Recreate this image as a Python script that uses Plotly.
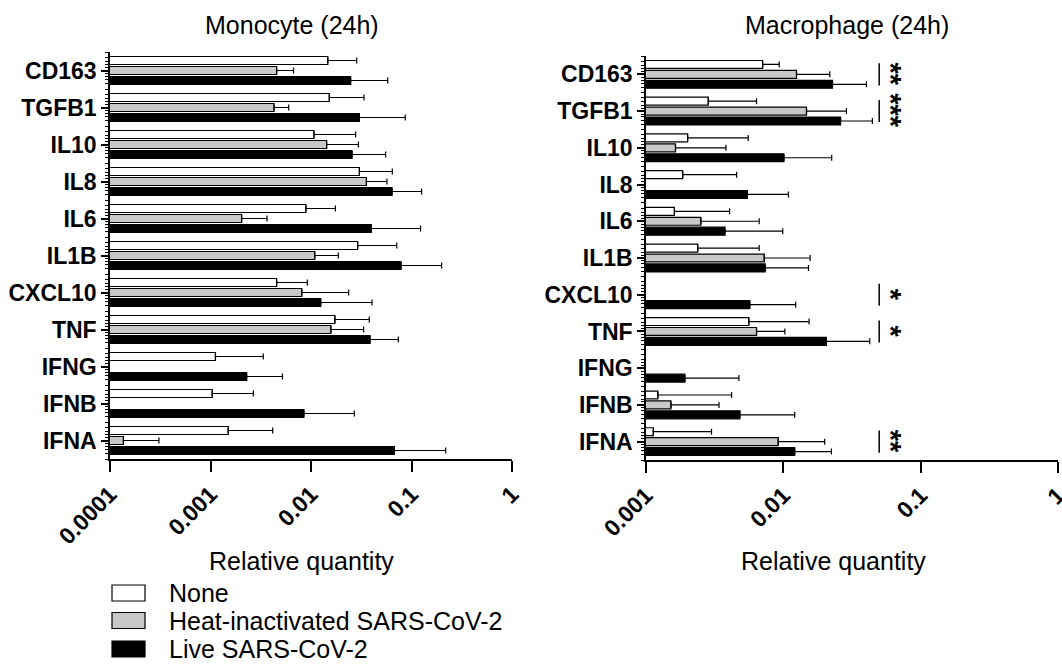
import plotly.graph_objects as go

W, H = 1062, 666

# ---------------- data ----------------
genes = ["CD163", "TGFB1", "IL10", "IL8", "IL6", "IL1B", "CXCL10", "TNF", "IFNG", "IFNB", "IFNA"]
series_names = ["None", "Heat-inactivated SARS-CoV-2", "Live SARS-CoV-2"]

# Monocyte (24h): mean relative quantity and upper error (SD)
mono_none = [0.0147, 0.0152, 0.0107, 0.0303, 0.0089, 0.0291, 0.00455, 0.0173, 0.00112, 0.00104, 0.0015]
mono_none_sd = [0.0138, 0.0185, 0.0171, 0.0341, 0.0086, 0.0422, 0.00465, 0.0207, 0.00223, 0.00163, 0.00266]
mono_heat = [0.00455, 0.00429, 0.0143, 0.0356, 0.00204, 0.0109, 0.0081, 0.0158, None, None, 0.000136]
mono_heat_sd = [0.00215, 0.00171, 0.0153, 0.0214, 0.00161, 0.0078, 0.0156, 0.0176, None, None, 0.000171]
mono_live = [0.0248, 0.0303, 0.0256, 0.064, 0.0398, 0.0787, 0.0125, 0.0387, 0.00229, 0.0085, 0.0675]
mono_live_sd = [0.0332, 0.0564, 0.0297, 0.062, 0.0832, 0.1208, 0.028, 0.0353, 0.00291, 0.0185, 0.1515]

# Macrophage (24h)
mac_none = [0.00707, 0.00284, 0.00201, 0.00185, 0.00161, 0.00238, None, 0.00561, None, 0.00122, 0.00113]
mac_none_sd = [0.00226, 0.00354, 0.00354, 0.00272, 0.00245, 0.00429, None, 0.00979, None, 0.00298, 0.00187]
mac_heat = [0.01247, 0.01475, 0.00164, None, 0.00251, 0.00726, None, 0.00638, None, 0.00152, 0.00917]
mac_heat_sd = [0.00933, 0.01405, 0.00218, None, 0.00416, 0.00841, None, 0.00388, None, 0.00188, 0.01083]
mac_live = [0.0228, 0.0261, 0.0101, 0.00546, 0.00376, 0.00738, 0.0057, 0.0206, 0.00192, 0.00483, 0.0121]
mac_live_sd = [0.0175, 0.0184, 0.0124, 0.00544, 0.00614, 0.00787, 0.0066, 0.022, 0.00283, 0.00727, 0.0103]

mono_ticks = [1e-4, 1e-3, 1e-2, 1e-1, 1]
mono_ticktext = ["0.0001", "0.001", "0.01", "0.1", "1"]
mac_ticks = [1e-3, 1e-2, 1e-1, 1]
mac_ticktext = ["0.001", "0.01", "0.1", "1"]

# significance marks (Macrophage panel)
sig_genes = ["CD163", "TGFB1", "CXCL10", "TNF", "IFNA"]
sig_labels = ["**", "***", "*", "*", "**"]

titles = ["Monocyte (24h)", "Macrophage (24h)"]
x_title = "Relative quantity"

# ---------------- style ----------------
FONT = "Liberation Sans, Arial, Helvetica, sans-serif"
fills = ["white", "#c8c8c8", "black"]


def px_x(p):
    return p / W


def px_y(p):
    return 1 - p / H


fig = go.Figure()

panels = [
    dict(xa="x", ya="y", ya_minor="y3",
         vals=[mono_none, mono_heat, mono_live], sds=[mono_none_sd, mono_heat_sd, mono_live_sd]),
    dict(xa="x2", ya="y2", ya_minor="y4",
         vals=[mac_none, mac_heat, mac_live], sds=[mac_none_sd, mac_heat_sd, mac_live_sd]),
]

for p in panels:
    for k in range(3):
        fig.add_trace(go.Bar(
            orientation="h", y=genes, x=p["vals"][k], name=series_names[k],
            xaxis=p["xa"], yaxis=p["ya"], showlegend=False,
            marker=dict(color=fills[k], line=dict(color="black", width=1.2)),
            error_x=dict(type="data", symmetric=False, array=p["sds"][k],
                         arrayminus=[0] * len(genes), color="black", thickness=1.2, width=3),
        ))
    # empty helper trace so the minor-tick overlay axis is drawn
    fig.add_trace(go.Scatter(x=[None], y=[None], xaxis=p["xa"], yaxis=p["ya_minor"],
                             showlegend=False, hoverinfo="skip", mode="markers"))

n = len(genes)
minor_offsets = [-0.5, -0.36, -0.25, -0.16, -0.08, 0.08, 0.16, 0.25, 0.36]
minor_vals = [i + o for i in range(n) for o in minor_offsets] + [n - 0.5]

tickfont_b = dict(family=FONT, size=23, color="black", weight="bold")

common_x = dict(type="log", showgrid=False, zeroline=False, showline=True, linecolor="black",
                linewidth=1.5, ticks="outside", ticklen=11, tickwidth=1.5, tickcolor="black",
                tickangle=-45, tickfont=tickfont_b, automargin=False, ticklabeloverflow="allow")
common_y = dict(type="category", categoryorder="array", categoryarray=genes,
                range=[n - 0.5, -0.5], showgrid=False, zeroline=False, showline=True,
                linecolor="black", linewidth=1.5, ticks="outside", ticklen=7, tickwidth=1.5,
                tickcolor="black", tickfont=tickfont_b, automargin=False)
minor_y = dict(type="linear", range=[n - 0.5, -0.5], tickmode="array", tickvals=minor_vals,
               ticks="outside", ticklen=4, tickwidth=1, tickcolor="black", showticklabels=False,
               showline=False, showgrid=False, zeroline=False, side="left", automargin=False)

fig.update_layout(
    width=W, height=H, margin=dict(l=0, r=0, t=0, b=0),
    paper_bgcolor="white", plot_bgcolor="white",
    barmode="group", bargap=0.19, bargroupgap=0.2,
    font=dict(family=FONT, color="black"),
    xaxis=dict(common_x, domain=[px_x(110), px_x(512)], range=[-4, 0], anchor="y",
               tickmode="array", tickvals=mono_ticks, ticktext=mono_ticktext),
    xaxis2=dict(common_x, domain=[px_x(646), px_x(1058)], range=[-3, 0], anchor="y2",
                tickmode="array", tickvals=mac_ticks, ticktext=mac_ticktext),
    yaxis=dict(common_y, domain=[px_y(459), px_y(52)], anchor="x"),
    yaxis2=dict(common_y, domain=[px_y(460), px_y(56)], anchor="x2"),
    yaxis3=dict(minor_y, overlaying="y", anchor="x"),
    yaxis4=dict(minor_y, overlaying="y2", anchor="x2"),
)

annotations = []
shapes = []

# panel titles
for t, cx in zip(titles, [292, 847]):
    annotations.append(dict(text=t, x=px_x(cx), y=px_y(25), xref="paper", yref="paper",
                            xanchor="center", yanchor="middle", showarrow=False,
                            font=dict(family=FONT, size=25, color="black")))
# x-axis titles
for cx in [301, 833]:
    annotations.append(dict(text=x_title, x=px_x(cx), y=px_y(561), xref="paper", yref="paper",
                            xanchor="center", yanchor="middle", showarrow=False,
                            font=dict(family=FONT, size=25, color="black")))

# significance bars and (rotated, stacked) stars
for g, lab in zip(sig_genes, sig_labels):
    c = genes.index(g)
    shapes.append(dict(type="line", xref="x2 domain", yref="y2", x0=0.566, x1=0.566,
                       y0=c - 0.3, y1=c + 0.3, line=dict(color="black", width=1.5)))
    annotations.append(dict(text=lab, xref="x2 domain", yref="y2", x=0.597, y=c,
                            xanchor="center", yanchor="middle", showarrow=False,
                            textangle=90, xshift=-1,
                            font=dict(family=FONT, size=29, color="black", weight="bold")))

# legend (drawn as boxes + text)
legend_rows = [593, 620.5, 649]
for k, (name, ry) in enumerate(zip(series_names, legend_rows)):
    shapes.append(dict(type="rect", xref="paper", yref="paper",
                       x0=px_x(112), x1=px_x(145), y0=px_y(ry + 8), y1=px_y(ry - 8),
                       fillcolor=fills[k], line=dict(color="black", width=1.2)))
    annotations.append(dict(text=name, x=px_x(167), y=px_y(ry), xref="paper", yref="paper",
                            xanchor="left", yanchor="middle", showarrow=False,
                            font=dict(family=FONT, size=25, color="black")))

fig.update_layout(annotations=annotations, shapes=shapes)

fig.write_html("out.html", config={"displayModeBar": False},
               post_script="document.body.style.margin='0';")
